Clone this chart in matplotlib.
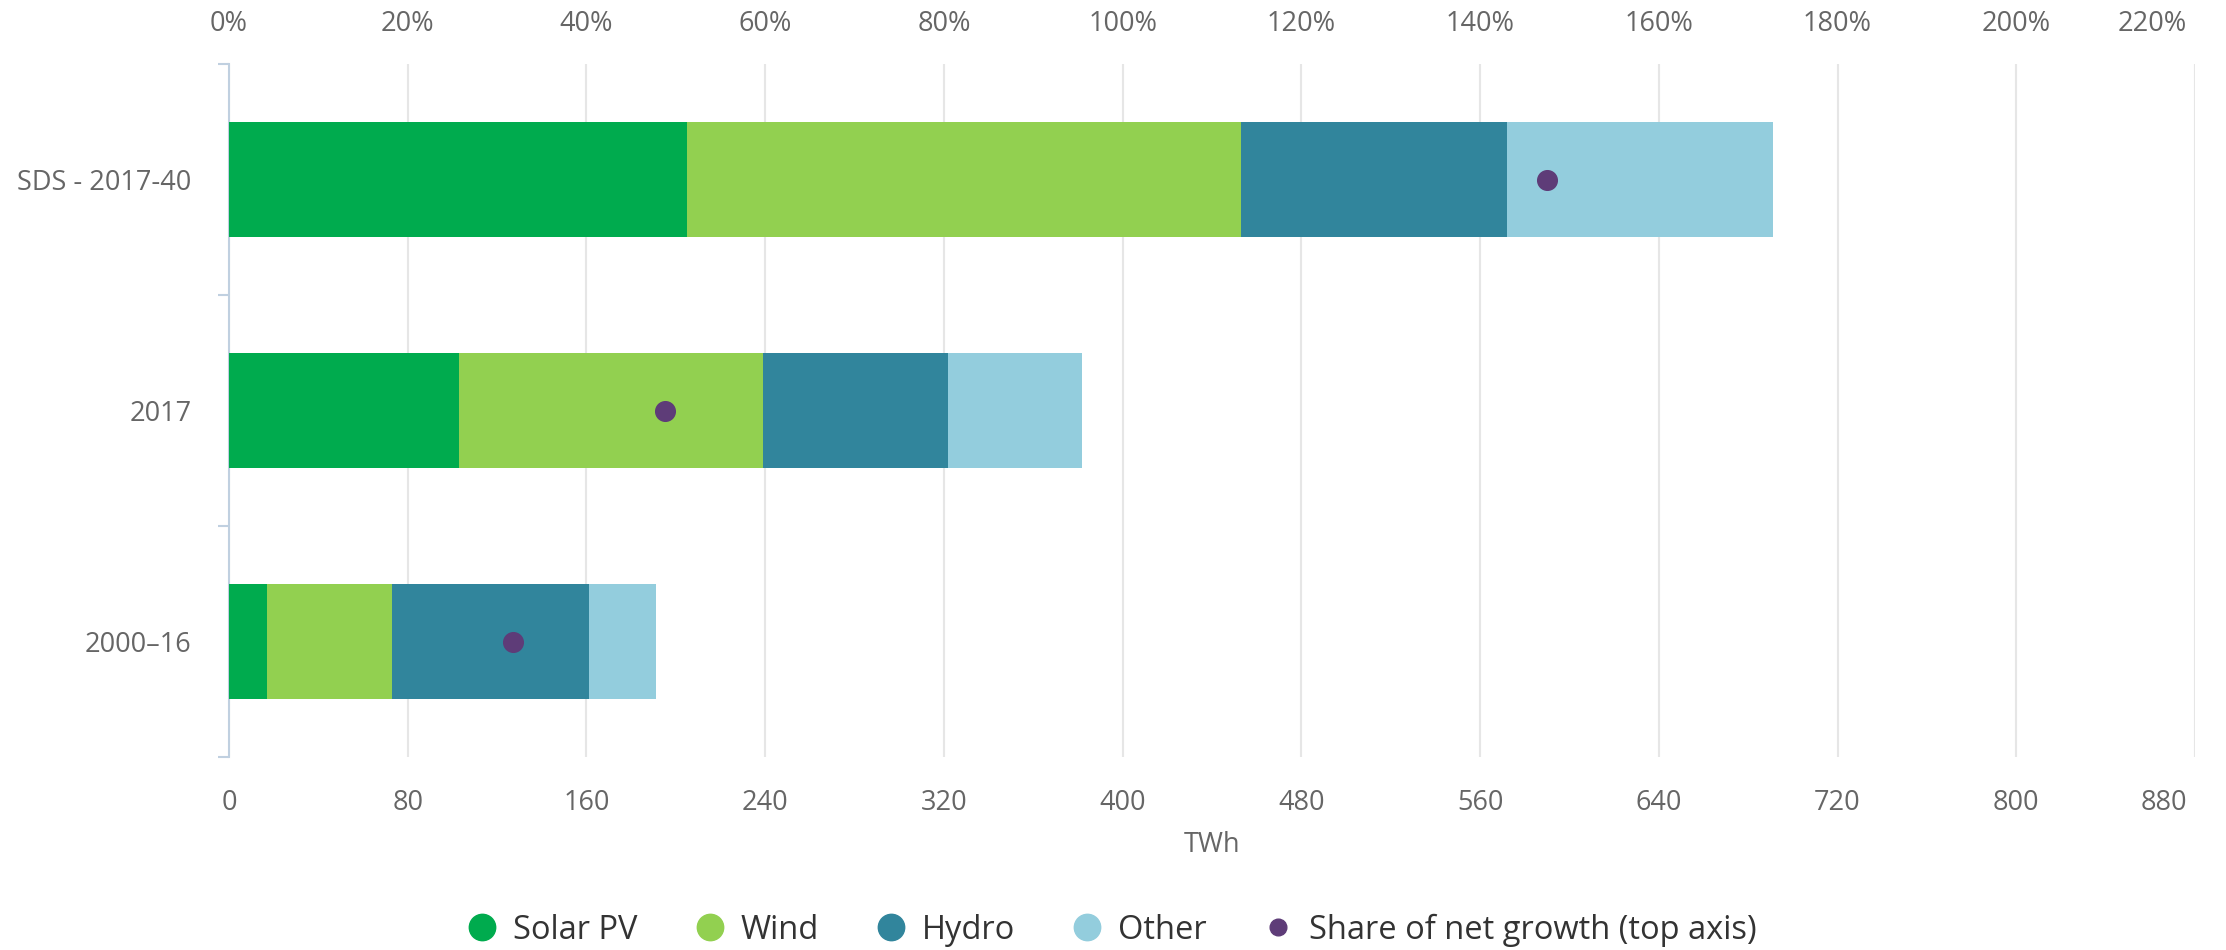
import matplotlib
matplotlib.use("Agg")
import matplotlib.pyplot as plt
import matplotlib.transforms as mtransforms
from matplotlib.lines import Line2D
from matplotlib import font_manager

# data (TWh, share in %)
categories = ["SDS - 2017-40", "2017", "2000\u201316"]
solar = [205, 103, 17]
wind = [248, 136, 56]
hydro = [119, 83, 88]
other = [119, 60, 30]
share = [147.5, 48.8, 31.8]

series_names = ["Solar PV", "Wind", "Hydro", "Other"]
colors = ["#00AB4E", "#92D050", "#31859C", "#93CDDD"]
dot_color = "#5E3C78"

names = {f.name for f in font_manager.fontManager.ttflist}
tick_font = "Liberation Sans Narrow" if "Liberation Sans Narrow" in names else "Open Sans"
legend_font = "Open Sans" if "Open Sans" in names else "DejaVu Sans"
tick_size = 19.5

fig = plt.figure(figsize=(22.26, 9.5), dpi=100)
ax = fig.add_axes([229 / 2226, 1 - 757 / 950, (2195 - 229) / 2226, (757 - 64) / 950])

ypos = list(range(len(categories)))
left = [0] * len(categories)
for name, vals, col in zip(series_names, [solar, wind, hydro, other], colors):
    ax.barh(ypos, vals, left=left, height=0.495, color=col, label=name, zorder=3)
    left = [a + b for a, b in zip(left, vals)]

ax.set_xlim(0, 880)
ax.set_ylim(2.5, -0.5)
ax.set_xticks(range(0, 881, 80))
ax.grid(axis="x", color="#E6E6E6", linewidth=1.5, zorder=0)
ax.set_axisbelow(True)

for s in ["top", "right", "bottom"]:
    ax.spines[s].set_visible(False)
ax.spines["left"].set_color("#C0D0E0")
ax.spines["left"].set_linewidth(1.5)

ax.set_yticks(ypos)
ax.set_yticklabels(categories)
ax.set_yticks([-0.5, 0.5, 1.5, 2.5], minor=True)
ax.tick_params(axis="y", which="major", length=0, pad=27, labelsize=tick_size,
               labelcolor="#666666")
ax.tick_params(axis="y", which="minor", length=8, width=1.5, color="#C0D0E0")
ax.tick_params(axis="x", length=0, pad=23, labelsize=tick_size, labelcolor="#666666")
for lab in ax.get_xticklabels() + ax.get_yticklabels():
    lab.set_fontfamily(tick_font)

ax.set_xlabel("TWh", fontsize=tick_size, color="#666666", fontfamily=tick_font, labelpad=10)

# top axis for share of net growth
ax2 = ax.twiny()
ax2.set_xlim(0, 220)
ax2.set_xticks(range(0, 221, 20))
ax2.set_xticklabels([f"{v}%" for v in range(0, 221, 20)])
ax2.tick_params(axis="x", length=0, pad=19, labelsize=tick_size, labelcolor="#666666")
for lab in ax2.get_xticklabels():
    lab.set_fontfamily(tick_font)
for s in ax2.spines.values():
    s.set_visible(False)
ax2.scatter(share, ypos, s=200, color=dot_color, zorder=5)
ax2.set_ylim(2.5, -0.5)

# last labels on both axes are pulled inside the plot edge
shift = mtransforms.ScaledTranslation(-8 / 100, 0, fig.dpi_scale_trans)
for lab in [ax.get_xticklabels()[-1], ax2.get_xticklabels()[-1]]:
    lab.set_horizontalalignment("right")
    lab.set_transform(lab.get_transform() + shift)

# legend along the bottom
handles = [Line2D([], [], marker="o", linestyle="none", markersize=19,
                  markerfacecolor=c, markeredgecolor=c) for c in colors]
handles.append(Line2D([], [], marker="o", linestyle="none", markersize=12,
                      markerfacecolor=dot_color, markeredgecolor=dot_color))
labels = series_names + ["Share of net growth (top axis)"]
fig.legend(handles, labels, loc="center", bbox_to_anchor=(0.5, 1 - 930 / 950), ncol=5,
           frameon=False, handletextpad=0.55, columnspacing=1.8, handlelength=0.8,
           prop={"family": legend_font, "size": 23.5},
           labelcolor="#333333")

fig.savefig("out.png", dpi=100)
